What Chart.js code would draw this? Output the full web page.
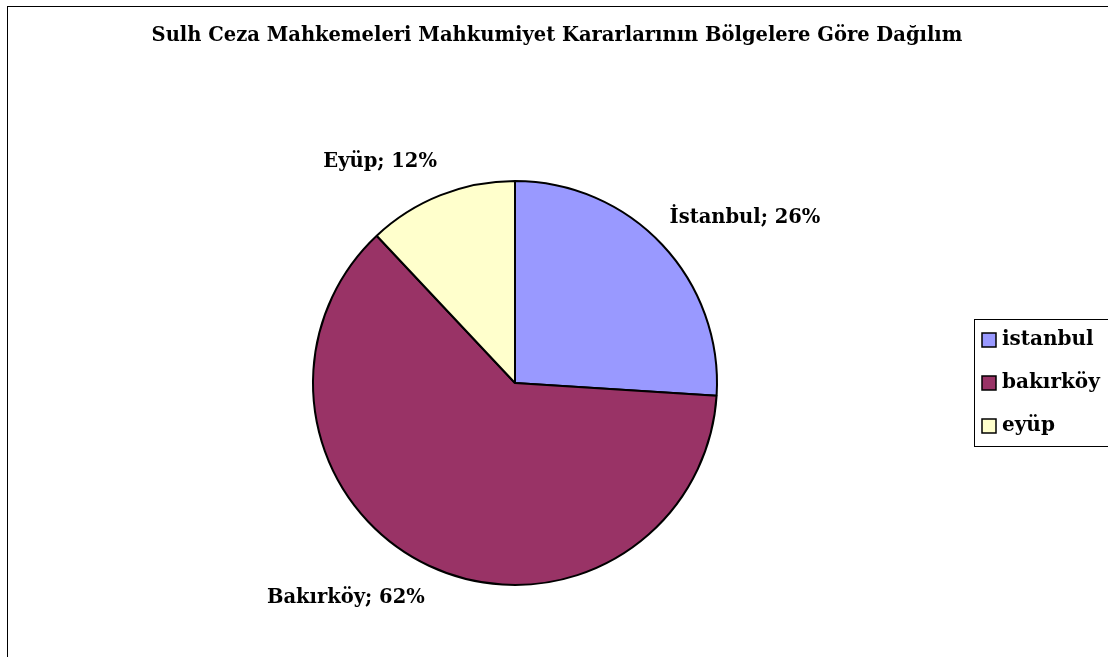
<!DOCTYPE html>
<html>
<head>
<meta charset="utf-8">
<script src="https://cdn.jsdelivr.net/npm/chart.js@4"></script>
<style>
    html, body { margin: 0; padding: 0; background: #fff; overflow: hidden; }
    #wrap { position: relative; width: 1108px; height: 657px; }
    #frame {
        position: absolute; left: 7px; top: 6px; width: 1200px; height: 800px;
        border: 1.5px solid #000; pointer-events: none;
    }
</style>
</head>
<body>
<div id="wrap">
    <canvas id="pieChart" width="1108" height="657"></canvas>
    <div id="frame"></div>
</div>
<script>
// Chart data
const TITLE = 'Sulh Ceza Mahkemeleri Mahkumiyet Kararlarının Bölgelere Göre Dağılım';
const legendLabels = ['istanbul', 'bakırköy', 'eyüp'];
const sliceLabels = ['İstanbul', 'Bakırköy', 'Eyüp'];
const shares = [26, 62, 12];
const colors = ['#9999FF', '#993366', '#FFFFCC'];

const FAMILY = '"DejaVu Serif", serif';

// Title, outside labels and legend box drawn on top of the pie
const decorPlugin = {
    id: 'decor',
    afterDraw(chart) {
        const ctx = chart.ctx;
        ctx.save();
        ctx.fillStyle = '#000';

        // Title
        ctx.font = 'bold 19.5px ' + FAMILY;
        ctx.textAlign = 'center';
        ctx.textBaseline = 'alphabetic';
        ctx.fillText(TITLE, 557, 41);

        // Slice labels outside the pie
        ctx.textBaseline = 'middle';
        const meta = chart.getDatasetMeta(0);
        meta.data.forEach((arc, i) => {
            const mid = (arc.startAngle + arc.endAngle) / 2;
            const ax = arc.x + Math.cos(mid) * (arc.outerRadius + 10);
            const ay = arc.y + Math.sin(mid) * (arc.outerRadius + 25);
            const text = sliceLabels[i] + '; ' + shares[i] + '%';
            const w = ctx.measureText(text).width;
            const h = 20;
            const cx = ax + Math.sign(Math.cos(mid)) * w / 2;
            const cy = ay + Math.sign(Math.sin(mid)) * h / 2;
            ctx.fillText(text, cx, cy);
        });

        // Legend
        ctx.lineWidth = 1;
        ctx.strokeStyle = '#000';
        ctx.strokeRect(974.5, 319.5, 200, 127);
        ctx.textAlign = 'left';
        ctx.font = 'bold 20px ' + FAMILY;
        legendLabels.forEach((label, i) => {
            const y = 340 + i * 43;
            ctx.fillStyle = colors[i];
            ctx.fillRect(982, y - 7, 14, 14);
            ctx.lineWidth = 1.5;
            ctx.strokeRect(982, y - 7, 14, 14);
            ctx.fillStyle = '#000';
            ctx.fillText(label, 1002, y);
        });
        ctx.restore();
    }
};

const ctx = document.getElementById('pieChart').getContext('2d');
const chart = new Chart(ctx, {
    type: 'pie',
    data: {
        labels: legendLabels,
        datasets: [{
            data: shares,
            backgroundColor: colors,
            borderColor: '#000',
            borderWidth: 2,
            radius: 202,
        }]
    },
    options: {
        responsive: false,
        animation: false,
        layout: {
            padding: { left: 100, right: 178, top: 130, bottom: 21 }
        },
        plugins: {
            legend: { display: false },
            title: { display: false },
            tooltip: { enabled: false }
        }
    },
    plugins: [decorPlugin]
});
</script>
</body>
</html>
